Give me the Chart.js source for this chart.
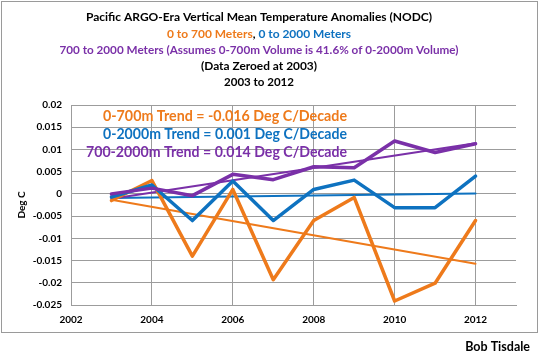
<!DOCTYPE html>
<html><head><meta charset="utf-8">
<script src="https://cdn.jsdelivr.net/npm/chart.js@4/dist/chart.umd.min.js"></script>
<style>html,body{margin:0;padding:0;background:#fff;}#wrap{width:540px;height:359px;position:relative;}</style>
</head><body><div id="wrap"><canvas id="c" width="540" height="359"></canvas></div>
<script>
const years = [2003,2004,2005,2006,2007,2008,2009,2010,2011,2012];
const upper700 = [-0.0015,0.003,-0.014,0.001,-0.0193,-0.006,-0.0008,-0.0241,-0.0201,-0.006];
const full2000 = [-0.0007,0.002,-0.006,0.0029,-0.006,0.001,0.0031,-0.0031,-0.0031,0.004];
const deep7002000 = [0.0,0.0013,-0.0004,0.0044,0.0032,0.0061,0.0059,0.0119,0.0093,0.0113];
const trendYears = [2003,2012];
const trend700 = [-0.0013,-0.0157];
const trend2000 = [-0.0009,0.0001];
const trendDeep = [-0.0011,0.0114];
const xTicks = [2002,2004,2006,2008,2010,2012];
const yMin = -0.025, yMax = 0.02, yStep = 0.005;
const titleLines = [
  [["Pacific ARGO-Era Vertical Mean Temperature Anomalies (NODC)","#000"]],
  [["0 to 700 Meters","#EE7A1B"],[", ","#000"],["0 to 2000 Meters","#0E72C0"]],
  [["700 to 2000 Meters (Assumes 0-700m Volume is 41.6% of 0-2000m Volume)","#7A30A8"]],
  [["(Data Zeroed at 2003)","#000"]],
  [["2003 to 2012","#000"]]
];
const trendNotes = [
  ["0-700m Trend = -0.016 Deg C/Decade","#EE7A1B"],
  ["0-2000m Trend = 0.001 Deg C/Decade","#0E72C0"],
  ["700-2000m Trend = 0.014 Deg C/Decade","#7A30A8"]
];
const ORANGE="#EE7A1B", BLUE="#0E72C0", PURPLE="#7A30A8";
const FONT = "Lato, 'DejaVu Sans', sans-serif";

function pts(xs, ys){ return xs.map((x,i)=>({x:x,y:ys[i]})); }

const decor = {
  id:'decor',
  beforeDraw(chart){
    const ctx=chart.ctx;
    ctx.save();
    ctx.fillStyle='#fff'; ctx.fillRect(0,0,540,359);
    ctx.strokeStyle='#9a9a9a'; ctx.lineWidth=1;
    ctx.strokeRect(1.5,1.5,536,331);
    ctx.restore();
  },
  afterDatasetsDraw(chart){
    const ctx=chart.ctx;
    ctx.save();
    const ys=[17,34,50,66,82];
    const widths=[347,184,399,116,70];
    ctx.font="bold 12px "+FONT;
    ctx.textBaseline='middle';
    titleLines.forEach((parts,i)=>{
      let total=0; parts.forEach(p=>total+=ctx.measureText(p[0]).width);
      const scale=Math.min(1,widths[i]/total);
      let x=259-total*scale/2;
      ctx.textAlign='left';
      parts.forEach(p=>{
        const w=ctx.measureText(p[0]).width*scale;
        ctx.fillStyle=p[1];
        ctx.fillText(p[0],x,ys[i],w);
        x+=w;
      });
    });
    ctx.font="bold 15.5px "+FONT;
    ctx.textAlign='right';
    const ny=[116,134,152], nw=[244,244,261];
    trendNotes.forEach((n,i)=>{
      ctx.fillStyle=n[1];
      ctx.fillText(n[0],347,ny[i],nw[i]);
    });
    ctx.font="bold 12.5px "+FONT;
    ctx.fillStyle='#000';
    ctx.textAlign='right';
    ctx.fillText("Bob Tisdale",530,347);
    ctx.restore();
  }
};

new Chart(document.getElementById('c'),{
  type:'line',
  data:{datasets:[
    {data:pts(years,upper700),borderColor:ORANGE,borderWidth:3.5,pointRadius:0,order:3},
    {data:pts(years,full2000),borderColor:BLUE,borderWidth:3.5,pointRadius:0,order:2},
    {data:pts(years,deep7002000),borderColor:PURPLE,borderWidth:3.5,pointRadius:0,order:1},
    {data:pts(trendYears,trend700),borderColor:ORANGE,borderWidth:2,pointRadius:0,order:6},
    {data:pts(trendYears,trend2000),borderColor:BLUE,borderWidth:2,pointRadius:0,order:5},
    {data:pts(trendYears,trendDeep),borderColor:PURPLE,borderWidth:2,pointRadius:0,order:4}
  ]},
  options:{
    responsive:false,animation:false,
    layout:{padding:{top:105,right:24,left:0,bottom:0}},
    plugins:{legend:{display:false},title:{display:false},tooltip:{enabled:false}},
    elements:{line:{tension:0,borderCapStyle:'round',borderJoinStyle:'round'}},
    scales:{
      x:{type:'linear',min:2002,max:2013,
        afterFit(s){s.height=54;},
        afterBuildTicks(s){s.ticks=xTicks.map(v=>({value:v}));},
        grid:{color:'#9c9c9c',lineWidth:1,drawTicks:false},
        border:{color:'#9c9c9c'},
        ticks:{padding:9,color:'#000',font:{family:FONT,size:10,weight:'bold'},maxRotation:0,autoSkip:false,callback:v=>String(v)}
      },
      y:{min:yMin,max:yMax,
        afterFit(s){s.width=71;},
        grid:{color:'#9c9c9c',lineWidth:1,drawTicks:false},
        border:{color:'#9c9c9c'},
        ticks:{stepSize:yStep,padding:9,color:'#000',font:{family:FONT,size:10,weight:'bold'},
          callback:v=>String(Math.round(v*1000)/1000)},
        title:{display:true,text:'Deg C',color:'#000',font:{family:FONT,size:10,weight:'bold'},padding:{top:16,bottom:0}}
      }
    }
  },
  plugins:[decor]
});
</script></body></html>
